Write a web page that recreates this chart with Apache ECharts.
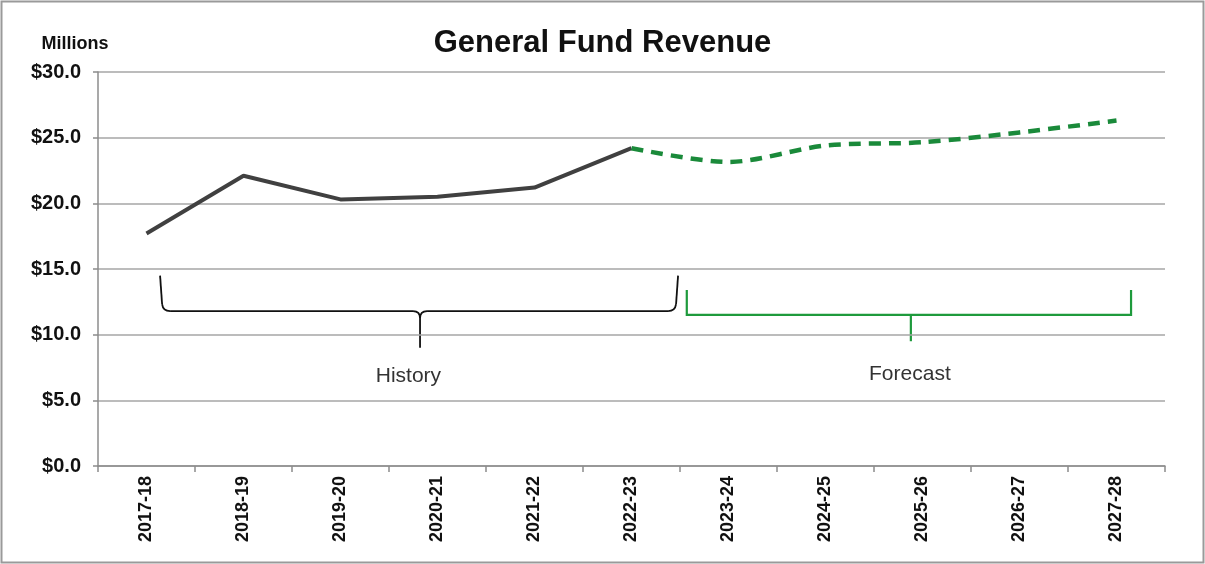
<!DOCTYPE html>
<html>
<head>
<meta charset="utf-8">
<script src="https://cdn.jsdelivr.net/npm/echarts@6/dist/echarts.min.js"></script>
<style>
  html, body { margin: 0; padding: 0; background: #fff; }
  #chart { width: 1205px; height: 564px; }
</style>
</head>
<body>
<div id="chart"></div>
<script>
// Fiscal years on the category axis
const years = ['2017-18', '2018-19', '2019-20', '2020-21', '2021-22', '2022-23',
               '2023-24', '2024-25', '2025-26', '2026-27', '2027-28'];
// Revenue in millions of dollars
const historyValues = [17.7, 22.1, 20.3, 20.5, 21.2, 24.2, null, null, null, null, null];
const forecastValues = [null, null, null, null, null, 24.2, 23.15, 24.4, 24.65, 25.4, 26.3];
// Value axis settings
const yMin = 0, yMax = 30, yStep = 5;

const FONT = '"Liberation Sans", Arial, sans-serif';
const GRID = { left: 98, right: 40, top: 72, bottom: 98 };
const W = 1205, H = 564;

const chart = echarts.init(document.getElementById('chart'), null, { renderer: 'canvas' });

// Bracket annotations: spans in category slots from the plot's left edge, heights in axis values
const plotW = W - GRID.left - GRID.right;
const plotH = H - GRID.top - GRID.bottom;
const slot = plotW / years.length;
const px = s => GRID.left + s * slot;
const py = v => GRID.top + (1 - (v - yMin) / (yMax - yMin)) * plotH;

function historyBrace(style) {
  const x0 = px(0.64), xm = px(3.32), x1 = px(5.98);
  const yt = py(14.5), yb = py(11.8), ytip = py(9.0);
  const r = 7;
  const parts = [];
  const poly = pts => parts.push({ type: 'polyline', silent: true, shape: { points: pts }, style });
  const curve = (a, c, b) => parts.push({
    type: 'bezierCurve', silent: true,
    shape: { x1: a[0], y1: a[1], cpx1: c[0], cpy1: c[1], x2: b[0], y2: b[1] }, style
  });
  poly([[x0, yt], [x0 + 2, yb - r]]);
  curve([x0 + 2, yb - r], [x0 + 3, yb], [x0 + r + 3, yb]);
  poly([[x0 + r + 3, yb], [xm - r, yb]]);
  curve([xm - r, yb], [xm, yb], [xm, yb + r]);
  curve([xm, yb + r], [xm, yb], [xm + r, yb]);
  poly([[xm, yb + r], [xm, ytip]]);
  poly([[xm + r, yb], [x1 - r - 3, yb]]);
  curve([x1 - r - 3, yb], [x1 - 3, yb], [x1 - 2, yb - r]);
  poly([[x1 - 2, yb - r], [x1, yt]]);
  return parts;
}

function forecastBracket(style) {
  const x0 = px(6.07), xm = px(8.38), x1 = px(10.65);
  const yt = py(13.4), yb = py(11.5), ytip = py(9.5);
  return [
    { type: 'polyline', silent: true, shape: { points: [[x0, yt], [x0, yb], [x1, yb], [x1, yt]] }, style },
    { type: 'polyline', silent: true, shape: { points: [[xm, yb], [xm, ytip]] }, style }
  ];
}

const option = {
  backgroundColor: '#ffffff',
  animation: false,
  title: {
    text: 'General Fund Revenue',
    left: 'center',
    top: 23,
    textStyle: { fontFamily: FONT, fontSize: 31, fontWeight: 'bold', color: '#111' }
  },
  grid: { left: GRID.left, right: GRID.right, top: GRID.top, bottom: GRID.bottom, containLabel: false },
  xAxis: {
    type: 'category',
    data: years,
    boundaryGap: true,
    axisLine: { show: true, lineStyle: { color: '#8c8c8c', width: 1.5 } },
    axisTick: { show: true, length: 6, lineStyle: { color: '#8c8c8c', width: 1.5 } },
    axisLabel: {
      rotate: 90, margin: 10, interval: 0,
      fontFamily: FONT, fontSize: 18, fontWeight: 'bold', color: '#111'
    },
    splitLine: { show: false }
  },
  yAxis: {
    type: 'value',
    min: yMin, max: yMax, interval: yStep,
    axisLine: { show: true, lineStyle: { color: '#8c8c8c', width: 1.5 } },
    axisTick: { show: true, length: 5, lineStyle: { color: '#8c8c8c', width: 1.5 } },
    axisLabel: {
      margin: 17,
      fontFamily: FONT, fontSize: 20, fontWeight: 'bold', color: '#111',
      formatter: v => '$' + v.toFixed(1)
    },
    splitLine: { show: true, lineStyle: { color: '#a6a6a6', width: 1.5 } }
  },
  series: [
    {
      name: 'History',
      type: 'line',
      data: historyValues,
      symbol: 'none',
      connectNulls: false,
      lineStyle: { color: '#404040', width: 4 },
      z: 3
    },
    {
      name: 'Forecast',
      type: 'line',
      data: forecastValues,
      symbol: 'none',
      smooth: 0.3,
      connectNulls: false,
      lineStyle: { color: '#1a8a3a', width: 4.5, type: [12, 8] },
      z: 4
    }
  ],
  graphic: [
    {
      type: 'rect', silent: true,
      shape: { x: 1.5, y: 1.5, width: W - 3, height: H - 3 },
      style: { fill: 'none', stroke: '#9a9a9a', lineWidth: 2 }
    },
    {
      type: 'text', silent: true,
      x: 75, y: 44,
      style: { text: 'Millions', fontFamily: FONT, fontSize: 18, fontWeight: 'bold', fill: '#111', align: 'center', verticalAlign: 'middle' }
    },
    ...historyBrace({ fill: 'none', stroke: '#111', lineWidth: 1.8 }),
    ...forecastBracket({ fill: 'none', stroke: '#1e9a3c', lineWidth: 2.2 }),
    {
      type: 'text', silent: true,
      x: px(3.2), y: py(6.85),
      style: { text: 'History', fontFamily: FONT, fontSize: 21, fill: '#333', align: 'center', verticalAlign: 'middle' }
    },
    {
      type: 'text', silent: true,
      x: px(8.37), y: py(7.0),
      style: { text: 'Forecast', fontFamily: FONT, fontSize: 21, fill: '#333', align: 'center', verticalAlign: 'middle' }
    }
  ]
};

chart.setOption(option);
</script>
</body>
</html>
